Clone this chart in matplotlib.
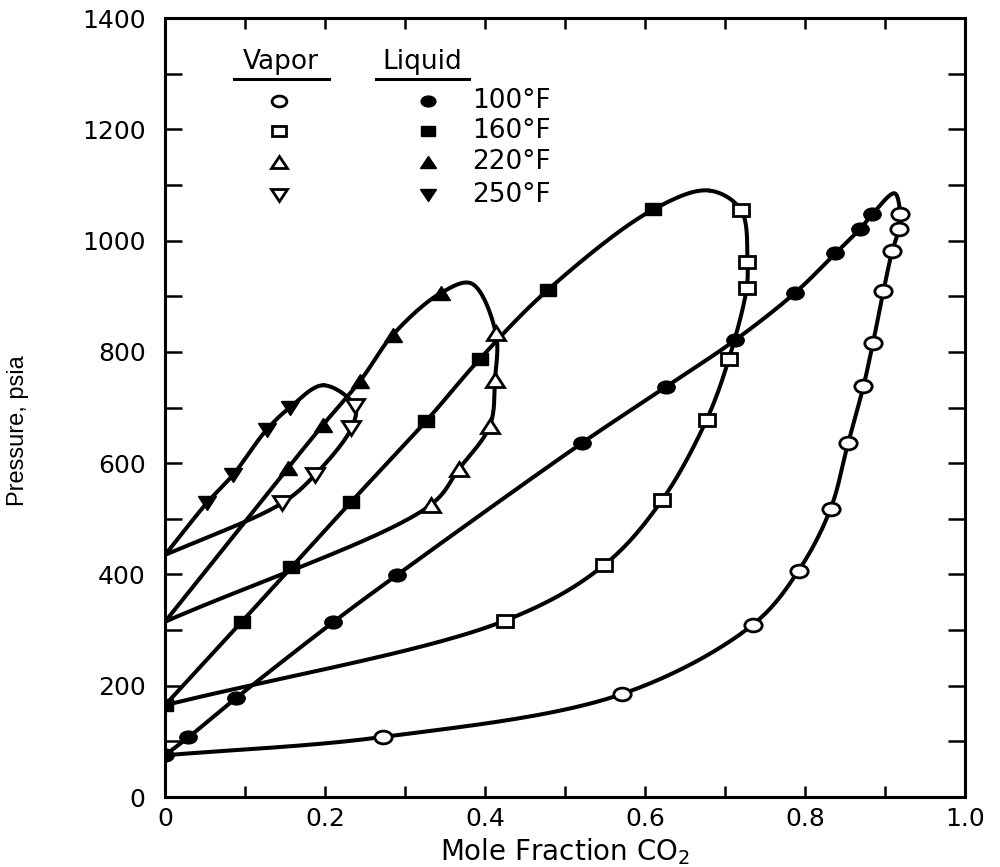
import numpy as np
import matplotlib
matplotlib.use("Agg")
import matplotlib.pyplot as plt
from matplotlib.ticker import MultipleLocator
from matplotlib.markers import MarkerStyle
from matplotlib.transforms import Affine2D

plt.rcParams['font.family'] = ['DejaVu Sans']

# ---------------- data ----------------
temps = ["100°F", "160°F", "220°F", "250°F"]

# pure-component vapour pressure at x = 0 (psia)
start_p = [75, 165, 315, 435]
# turning (critical) point at top of each loop
crit_x = [0.912, 0.680, 0.383, 0.198]
crit_p = [1085, 1090, 923, 740]

liq100_x = [0.0, 0.029, 0.089, 0.210, 0.290, 0.521, 0.626, 0.7125, 0.7875, 0.838, 0.869, 0.884]
liq100_p = [75, 107, 178, 314, 399, 636, 737, 821, 906, 977, 1021, 1047]
vap100_x = [0.273, 0.571, 0.735, 0.792, 0.832, 0.854, 0.873, 0.885, 0.898, 0.909, 0.9175, 0.919]
vap100_p = [108, 185, 310, 407, 518, 637, 738, 816, 909, 981, 1021, 1048]

liq160_x = [0.0, 0.096, 0.158, 0.233, 0.326, 0.394, 0.479, 0.6105]
liq160_p = [165, 315, 413, 531, 675, 788, 912, 1056]
vap160_x = [0.425, 0.549, 0.621, 0.677, 0.705, 0.727, 0.728, 0.720]
vap160_p = [317, 417, 533, 678, 788, 914, 962, 1055]

liq220_x = [0.154, 0.197, 0.244, 0.285, 0.345]
liq220_p = [592, 668, 748, 831, 906]
vap220_x = [0.332, 0.3675, 0.406, 0.4125, 0.4135]
vap220_p = [525, 590, 667, 750, 834]

liq250_x = [0.052, 0.085, 0.127, 0.156]
liq250_p = [528, 579, 660, 700]
vap250_x = [0.146, 0.1875, 0.233, 0.2375]
vap250_p = [528, 579, 663, 702]

liq_x = [liq100_x, liq160_x, liq220_x, liq250_x]
liq_p = [liq100_p, liq160_p, liq220_p, liq250_p]
vap_x = [vap100_x, vap160_x, vap220_x, vap250_x]
vap_p = [vap100_p, vap160_p, vap220_p, vap250_p]

marker_kinds = ['o', 's', '^', 'v']
msizes = [10, 9.5, 10.5, 10.5]

xticks = [0, 0.2, 0.4, 0.6, 0.8, 1.0]
xticklabels = ["0", "0.2", "0.4", "0.6", "0.8", "1.0"]
yticks = [0, 200, 400, 600, 800, 1000, 1200, 1400]

# ---------------- helpers ----------------
SX, SY = 800.0, 0.5564  # approx pixel scale, for isotropic smoothing


def catmull_rom(xs, ys, n=40, alpha=0.5):
    P = np.column_stack([np.asarray(xs) * SX, np.asarray(ys) * SY])
    P = np.vstack([2 * P[0] - P[1], P, 2 * P[-1] - P[-2]])
    out = []
    for i in range(1, len(P) - 2):
        p0, p1, p2, p3 = P[i - 1], P[i], P[i + 1], P[i + 2]
        t0 = 0.0
        t1 = t0 + max(np.linalg.norm(p1 - p0), 1e-6) ** alpha
        t2 = t1 + max(np.linalg.norm(p2 - p1), 1e-6) ** alpha
        t3 = t2 + max(np.linalg.norm(p3 - p2), 1e-6) ** alpha
        t = np.linspace(t1, t2, n)[:, None]
        A1 = (t1 - t) / (t1 - t0) * p0 + (t - t0) / (t1 - t0) * p1
        A2 = (t2 - t) / (t2 - t1) * p1 + (t - t1) / (t2 - t1) * p2
        A3 = (t3 - t) / (t3 - t2) * p2 + (t - t2) / (t3 - t2) * p3
        B1 = (t2 - t) / (t2 - t0) * A1 + (t - t0) / (t2 - t0) * A2
        B2 = (t3 - t) / (t3 - t1) * A2 + (t - t1) / (t3 - t1) * A3
        C = (t2 - t) / (t2 - t1) * B1 + (t - t1) / (t2 - t1) * B2
        out.append(C)
    C = np.vstack(out)
    return C[:, 0] / SX, C[:, 1] / SY


def wide(m):
    # markers in the scan are slightly wider than tall
    return MarkerStyle(m, transform=Affine2D().scale(1.25, 0.92))


# ---------------- figure ----------------
fig = plt.figure(figsize=(10, 8.67), dpi=100)
ax = fig.add_axes([0.165, 0.0807, 0.80, 0.8985])

for i in range(4):
    lx, lp = list(liq_x[i]), list(liq_p[i])
    vx, vp = list(vap_x[i]), list(vap_p[i])
    px = ([0.0] if lx[0] != 0.0 else []) + lx + [crit_x[i]] + vx[::-1] + [0.0]
    pp = ([start_p[i]] if lx[0] != 0.0 else []) + lp + [crit_p[i]] + vp[::-1] + [start_p[i]]
    cx, cp = catmull_rom(px, pp)
    ax.plot(cx, cp, color='black', lw=2.9, solid_capstyle='round', zorder=2)
    ax.plot(lx, lp, linestyle='none', marker=wide(marker_kinds[i]), ms=msizes[i],
            mfc='black', mec='black', zorder=3)
    ax.plot(vx, vp, linestyle='none', marker=wide(marker_kinds[i]), ms=msizes[i],
            mfc='white', mec='black', mew=2.0, zorder=3)

ax.set_xlim(0, 1.0)
ax.set_ylim(0, 1400)
ax.set_xticks(xticks)
ax.set_xticklabels(xticklabels)
ax.xaxis.set_minor_locator(MultipleLocator(0.1))
ax.set_yticks(yticks)
ax.yaxis.set_minor_locator(MultipleLocator(100))
ax.tick_params(axis='x', which='both', direction='in', length=8, width=1.8,
               top=True, labelsize=18, pad=7)
ax.tick_params(axis='y', which='both', direction='in', length=12, width=1.8,
               right=True, labelsize=18, pad=14)
for s in ax.spines.values():
    s.set_linewidth(2.2)

ax.set_xlabel("Mole Fraction CO$_2$", fontsize=20, labelpad=4)
ax.set_ylabel("Pressure, psia", fontsize=17,
              fontfamily=['Liberation Sans', 'DejaVu Sans'])
ax.yaxis.set_label_coords(-0.17, 0.47)

# ---------------- legend (manual, in axes fraction) ----------------
def fx(px):
    return (px - 165) / 800.0


def fy(py):
    return (797 - py) / 779.0


ax.text(fx(281), fy(62), "Vapor", transform=ax.transAxes, fontsize=19,
        ha='center', va='center')
ax.text(fx(422), fy(62), "Liquid", transform=ax.transAxes, fontsize=19,
        ha='center', va='center')
ax.plot([fx(234), fx(329)], [fy(79), fy(79)], transform=ax.transAxes,
        color='black', lw=2.2, clip_on=False)
ax.plot([fx(376), fx(469)], [fy(79), fy(79)], transform=ax.transAxes,
        color='black', lw=2.2, clip_on=False)
row_y = [101, 131, 162, 195]
for i in range(4):
    ax.plot([fx(279)], [fy(row_y[i])], transform=ax.transAxes,
            marker=wide(marker_kinds[i]), ms=msizes[i] - 1.5, mfc='white', mec='black',
            mew=2.0, linestyle='none')
    ax.plot([fx(428)], [fy(row_y[i])], transform=ax.transAxes,
            marker=wide(marker_kinds[i]), ms=msizes[i] - 1.5, mfc='black', mec='black',
            linestyle='none')
    ax.text(fx(472), fy(row_y[i]), temps[i], transform=ax.transAxes,
            fontsize=19, ha='left', va='center')

fig.savefig("out.png", dpi=100)
